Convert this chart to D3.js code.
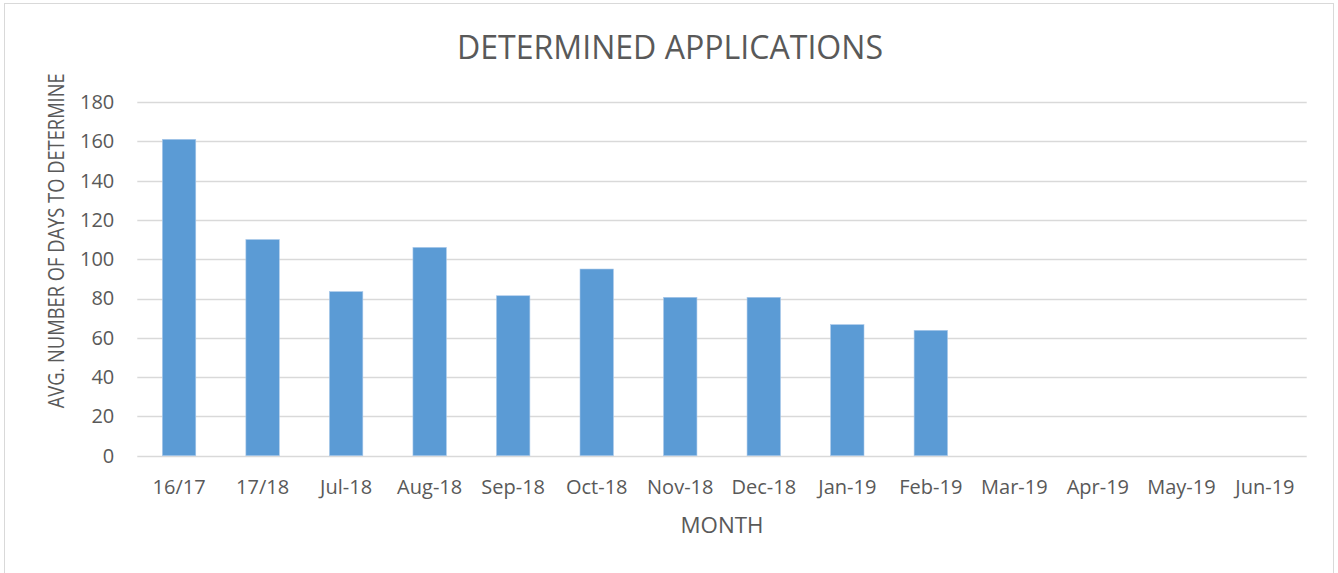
<!DOCTYPE html>
<html>
<head>
<meta charset="utf-8">
<script src="https://cdn.jsdelivr.net/npm/d3@7"></script>
<style>
  html, body { margin: 0; padding: 0; background: #fff; }
  svg { display: block; }
  text { font-family: "Open Sans", "Noto Sans", sans-serif; fill: #595959; }
</style>
</head>
<body>
<svg id="chart" width="1338" height="573"></svg>
<script>
const categories = ["16/17","17/18","Jul-18","Aug-18","Sep-18","Oct-18","Nov-18","Dec-18","Jan-19","Feb-19","Mar-19","Apr-19","May-19","Jun-19"];
const avgDays = [161, 110, 83.5, 106, 81.4, 95, 80.6, 80.6, 66.7, 63.8, null, null, null, null];
const yTicks = [0, 20, 40, 60, 80, 100, 120, 140, 160, 180];
const titleText = "DETERMINED APPLICATIONS";
const xTitle = "MONTH";
const yTitle = "AVG. NUMBER OF DAYS TO DETERMINE";

const svg = d3.select("#chart");
const W = 1338, H = 573;
const plot = { left: 137.3, right: 1306.7, top: 102, bottom: 455.7 };

// chart area border
svg.append("rect")
  .attr("x", 4.5).attr("y", 3.5)
  .attr("width", 1329).attr("height", 600)
  .attr("fill", "#fff").attr("stroke", "#d9d9d9").attr("stroke-width", 1);

const x = d3.scaleBand()
  .domain(categories)
  .range([plot.left, plot.right])
  .paddingInner(0.6)
  .paddingOuter(0.3);

const y = d3.scaleLinear()
  .domain([0, 180])
  .range([plot.bottom, plot.top]);

// gridlines
svg.append("g")
  .selectAll("line")
  .data(yTicks)
  .join("line")
  .attr("x1", plot.left).attr("x2", plot.right)
  .attr("y1", d => Math.round(y(d)) + 0.5).attr("y2", d => Math.round(y(d)) + 0.5)
  .attr("stroke", "#d9d9d9").attr("stroke-width", 1.3);

// bars
svg.append("g")
  .selectAll("rect")
  .data(categories.map((c, i) => ({ c, v: avgDays[i] })).filter(d => d.v != null))
  .join("rect")
  .attr("x", d => x(d.c))
  .attr("width", x.bandwidth())
  .attr("y", d => y(d.v))
  .attr("height", d => y(0) - y(d.v))
  .attr("fill", "#5b9bd5")
  .attr("stroke", "#a9c8ea")
  .attr("stroke-width", 0.6);

// y axis
const yAxis = svg.append("g")
  .attr("transform", `translate(${plot.left},0)`)
  .call(d3.axisLeft(y).tickValues(yTicks).tickSize(0).tickPadding(23));
yAxis.select(".domain").remove();
yAxis.selectAll("text")
  .style("font-family", "'Open Sans', sans-serif")
  .style("font-size", "20px")
  .attr("fill", "#595959");

// x axis
const xAxis = svg.append("g")
  .attr("transform", `translate(0,${plot.bottom})`)
  .call(d3.axisBottom(x).tickSize(0).tickPadding(24));
xAxis.select(".domain").remove();
xAxis.selectAll("text")
  .style("font-family", "'Open Sans', sans-serif")
  .style("font-size", "20px")
  .attr("fill", "#595959");

// title
svg.append("text")
  .attr("x", 670).attr("y", 59.3)
  .attr("text-anchor", "middle")
  .attr("textLength", 426)
  .attr("lengthAdjust", "spacingAndGlyphs")
  .style("font-size", "32px")
  .text(titleText);

// x axis title
svg.append("text")
  .attr("x", 722).attr("y", 533.3)
  .attr("text-anchor", "middle")
  .attr("textLength", 83)
  .attr("lengthAdjust", "spacingAndGlyphs")
  .style("font-size", "22px")
  .text(xTitle);

// y axis title
svg.append("text")
  .attr("transform", "translate(64.3,240.8) rotate(-90)")
  .attr("text-anchor", "middle")
  .attr("textLength", 335)
  .attr("lengthAdjust", "spacingAndGlyphs")
  .style("font-size", "21px")
  .text(yTitle);
</script>
</body>
</html>
